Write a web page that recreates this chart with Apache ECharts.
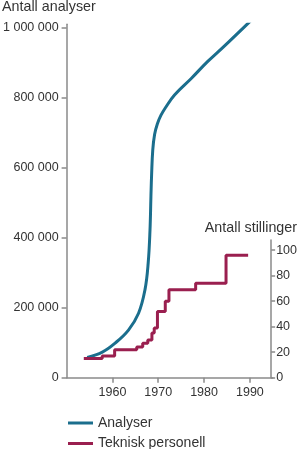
<!DOCTYPE html>
<html><head><meta charset="utf-8">
<script src="https://cdn.jsdelivr.net/npm/echarts@6/dist/echarts.min.js"></script>
<style>html,body{margin:0;padding:0;background:#fff}#c{width:300px;height:449px}</style>
</head><body><div id="c"></div>
<script>
const analyserYears  = [1954.5, 1957.8, 1960.6, 1963.5, 1965.7, 1967.1, 1967.8, 1968.2, 1968.4, 1968.55, 1968.8, 1969.2, 1969.8, 1970.6, 1971.6, 1973.55, 1977.2, 1980.75, 1984.3, 1990.1];
const analyserValues = [58000, 73000, 99000, 136000, 184000, 251000, 327000, 422000, 517000, 580000, 650000, 695000, 725000, 750000, 772000, 808000, 855000, 903000, 946000, 1019000];
const stillingYears  = [1954.3, 1958.3, 1961.0, 1965.8, 1967.1, 1968.2, 1969.1, 1969.6, 1970.3, 1972.0, 1972.8, 1978.6, 1985.2, 1990.0];
const stillingValues = [15, 17, 22, 24, 27, 29.5, 35, 39, 52, 60, 69, 74, 96, 96];
const xTicks = [1960, 1970, 1980, 1990];
const leftTicks = [0, 200000, 400000, 600000, 800000, 1000000];
const rightTicks = [0, 20, 40, 60, 80, 100];
const seriesNames = ['Analyser', 'Teknisk personell'];
const axisTitles = ['Antall analyser', 'Antall stillinger'];

const BLUE = '#1b6e8d', RED = '#9a1f4f', AX = '#8a8a8a', TXT = '#333';
const FONT = '"Liberation Sans", Arial, sans-serif';
const fmt = v => String(v).replace(/\B(?=(\d{3})+(?!\d))/g, ' ');

const chart = echarts.init(document.getElementById('c'), null, {renderer: 'canvas'});
const legendBase = {
  orient: 'vertical', left: 68, itemWidth: 25, itemHeight: 3, icon: 'rect',
  textStyle: {color: TXT, fontSize: 14, fontFamily: FONT}, padding: 0
};
chart.setOption({
  animation: false,
  textStyle: {fontFamily: FONT},
  grid: [
    {left: 64, right: 27.2, top: 24.2, bottom: 71.3},
    {left: 64, right: 27.2, top: 240, bottom: 71.3}
  ],
  xAxis: [
    {type: 'value', gridIndex: 0, min: 1950, max: 1995, splitLine: {show: false},
     axisLine: {lineStyle: {color: AX, width: 1.5}},
     axisTick: {customValues: xTicks, length: 5, lineStyle: {color: AX, width: 1.5}},
     axisLabel: {customValues: xTicks, formatter: v => String(v), color: TXT, fontSize: 12.5, margin: 8, fontFamily: FONT}},
    {type: 'value', gridIndex: 1, min: 1950, max: 1995, show: false}
  ],
  yAxis: [
    {type: 'value', gridIndex: 0, min: 0, max: 1010000, splitLine: {show: false},
     axisLine: {show: true, lineStyle: {color: AX, width: 1.5}},
     axisTick: {show: true, customValues: leftTicks, length: 5, lineStyle: {color: AX, width: 1.5}},
     axisLabel: {customValues: leftTicks, formatter: fmt, color: TXT, fontSize: 12.5, margin: 8, fontFamily: FONT}},
    {type: 'value', gridIndex: 1, position: 'right', min: 0, max: 108, splitLine: {show: false},
     axisLine: {show: true, lineStyle: {color: AX, width: 1.5}},
     axisTick: {show: true, customValues: rightTicks, length: 4, lineStyle: {color: AX, width: 1.5}},
     axisLabel: {customValues: rightTicks, color: TXT, fontSize: 12.5, margin: 5, fontFamily: FONT}}
  ],
  legend: [
    Object.assign({}, legendBase, {top: 416, data: [seriesNames[0]]}),
    Object.assign({}, legendBase, {top: 436.5, data: [seriesNames[1]]})
  ],
  graphic: [
    {type: 'text', left: 2, top: 0, style: {text: axisTitles[0], fill: TXT, font: '14.3px ' + FONT}},
    {type: 'text', right: 3, top: 221, style: {text: axisTitles[1], fill: TXT, font: '14.3px ' + FONT}}
  ],
  series: [
    {name: seriesNames[0], type: 'line', xAxisIndex: 0, yAxisIndex: 0, symbol: 'none',
     smooth: 0.4,
     lineStyle: {color: BLUE, width: 3}, itemStyle: {color: BLUE},
     data: analyserYears.map((x, i) => [x, analyserValues[i]])},
    {name: seriesNames[1], type: 'line', xAxisIndex: 1, yAxisIndex: 1, symbol: 'none',
     step: 'end',
     lineStyle: {color: RED, width: 3}, itemStyle: {color: RED},
     data: stillingYears.map((x, i) => [x, stillingValues[i]])}
  ]
});
</script>
</body></html>
